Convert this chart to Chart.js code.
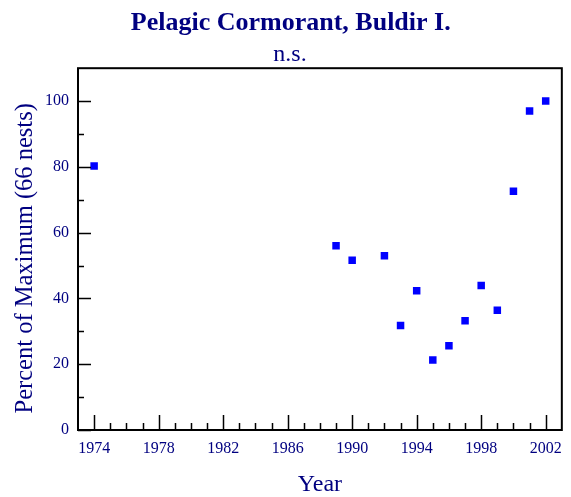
<!DOCTYPE html>
<html>
<head>
<meta charset="utf-8">
<script src="https://cdn.jsdelivr.net/npm/chart.js@4"></script>
<style>
html,body{margin:0;padding:0;background:#fff;}
#wrap{width:571px;height:497px;}
</style>
</head>
<body>
<div id="wrap"><canvas id="c" width="571" height="497"></canvas></div>
<script>
const years = [1974, 1989, 1990, 1992, 1993, 1994, 1995, 1996, 1997, 1998, 1999, 2000, 2001, 2002];
const values = [80.3, 56.0, 51.6, 53.0, 31.8, 42.3, 21.3, 25.6, 33.2, 43.9, 36.4, 72.6, 97.0, 100];
const xMajorTicks = [1974, 1978, 1982, 1986, 1990, 1994, 1998, 2002];
const xMinorTicks = [1975,1976,1977,1979,1980,1981,1983,1984,1985,1987,1988,1989,1991,1992,1993,1995,1996,1997,1999,2000,2001];
const yMajorTicks = [0, 20, 40, 60, 80, 100];
const yMinorTicks = [10, 30, 50, 70, 90];

const NAVY = '#000080';
const SERIF = '"Liberation Serif", "Times New Roman", serif';

const tickPlugin = {
  id: 'tickPlugin',
  afterDraw(chart) {
    const {ctx, chartArea: a, scales: {x, y}} = chart;
    ctx.save();
    ctx.strokeStyle = '#000';
    ctx.lineWidth = 2;
    ctx.strokeRect(a.left, a.top, a.right - a.left, a.bottom - a.top);
    ctx.lineWidth = 1.5;
    ctx.beginPath();
    xMajorTicks.forEach(v => { const px = Math.round(x.getPixelForValue(v)) + 0.5; ctx.moveTo(px, a.bottom); ctx.lineTo(px, a.bottom - 15); });
    xMinorTicks.forEach(v => { const px = Math.round(x.getPixelForValue(v)) + 0.5; ctx.moveTo(px, a.bottom); ctx.lineTo(px, a.bottom - 7); });
    yMajorTicks.forEach(v => { const py = Math.round(y.getPixelForValue(v)) + 0.5; ctx.moveTo(a.left, py); ctx.lineTo(a.left + 13, py); });
    yMinorTicks.forEach(v => { const py = Math.round(y.getPixelForValue(v)) + 0.5; ctx.moveTo(a.left, py); ctx.lineTo(a.left + 6, py); });
    ctx.stroke();
    ctx.restore();
  }
};

new Chart(document.getElementById('c'), {
  type: 'scatter',
  data: {
    datasets: [{
      data: years.map((yr, i) => ({x: yr, y: values[i]})),
      pointStyle: 'rect',
      pointRadius: 5.3,
      pointHoverRadius: 5.3,
      backgroundColor: '#0000ff',
      borderColor: '#0000ff',
      borderWidth: 0
    }]
  },
  options: {
    responsive: false,
    animation: false,
    events: [],
    layout: {padding: {left: 0, right: 9, top: 0, bottom: 0}},
    plugins: {
      legend: {display: false},
      tooltip: {enabled: false},
      title: {
        display: true,
        text: '   Pelagic Cormorant, Buldir I.',
        color: NAVY,
        font: {family: SERIF, size: 26, weight: 'bold', lineHeight: 1.2},
        padding: {top: 8, bottom: 0}
      },
      subtitle: {
        display: true,
        text: '   n.s.',
        color: NAVY,
        font: {family: SERIF, size: 24, weight: 'normal', lineHeight: 1.0},
        padding: {top: 4, bottom: 1}
      }
    },
    scales: {
      x: {
        type: 'linear',
        min: 1973,
        max: 2003,
        grid: {display: false, drawTicks: false},
        border: {display: false},
        afterBuildTicks: s => { s.ticks = xMajorTicks.map(v => ({value: v})); },
        afterFit: s => { s.height = 67; },
        ticks: {
          color: NAVY,
          font: {family: SERIF, size: 16},
          padding: 9,
          maxRotation: 0,
          autoSkip: false,
          callback: v => String(v)
        },
        title: {
          display: true,
          text: 'Year',
          color: NAVY,
          font: {family: SERIF, size: 24, lineHeight: 1.0},
          padding: {top: 0, bottom: 0}
        }
      },
      y: {
        type: 'linear',
        min: 0,
        max: 110,
        grid: {display: false, drawTicks: false},
        border: {display: false},
        afterBuildTicks: s => { s.ticks = yMajorTicks.map(v => ({value: v})); },
        afterFit: s => { s.width = 78; },
        ticks: {
          color: NAVY,
          font: {family: SERIF, size: 16},
          padding: 9,
          autoSkip: false
        },
        title: {
          display: true,
          text: 'Percent of Maximum (66 nests)   ',
          color: NAVY,
          font: {family: SERIF, size: 24.5, lineHeight: 1.2},
          padding: {top: 11, bottom: 0}
        }
      }
    }
  },
  plugins: [tickPlugin]
});
</script>
</body>
</html>
